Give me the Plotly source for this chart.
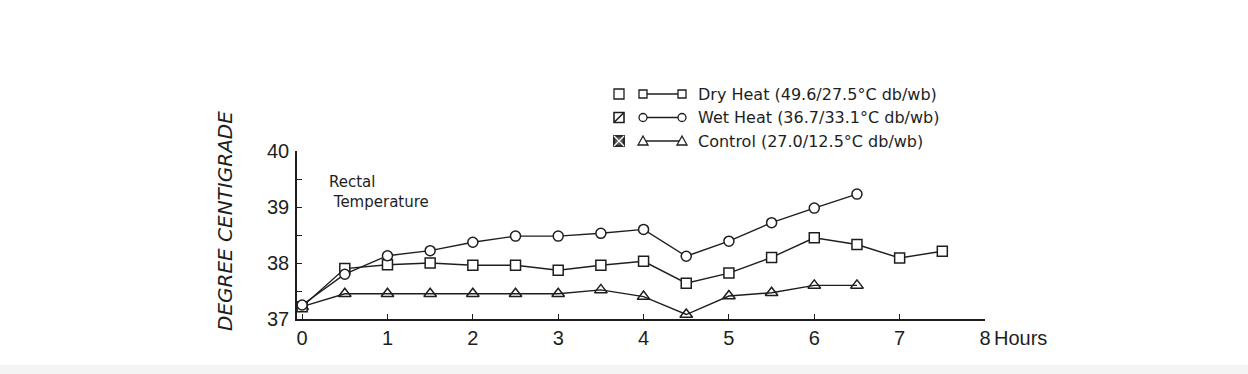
import plotly.graph_objects as go

# ---- data ----
hours_dry = [0, 0.5, 1, 1.5, 2, 2.5, 3, 3.5, 4, 4.5, 5, 5.5, 6, 6.5, 7, 7.5]
dry_heat = [37.22, 37.9, 37.97, 38.0, 37.96, 37.96, 37.87, 37.96, 38.03, 37.64, 37.82, 38.1, 38.45, 38.33, 38.09, 38.21]
hours_wet = [0, 0.5, 1, 1.5, 2, 2.5, 3, 3.5, 4, 4.5, 5, 5.5, 6, 6.5]
wet_heat = [37.25, 37.8, 38.13, 38.22, 38.37, 38.48, 38.48, 38.53, 38.6, 38.12, 38.39, 38.72, 38.98, 39.23]
hours_ctrl = [0, 0.5, 1, 1.5, 2, 2.5, 3, 3.5, 4, 4.5, 5, 5.5, 6, 6.5]
control = [37.22, 37.45, 37.45, 37.45, 37.45, 37.45, 37.45, 37.52, 37.4, 37.08, 37.41, 37.47, 37.6, 37.6]

series_names = ["Dry Heat (49.6/27.5°C db/wb)",
                "Wet Heat (36.7/33.1°C db/wb)",
                "Control (27.0/12.5°C db/wb)"]
x_ticks = [0, 1, 2, 3, 4, 5, 6, 7, 8]
x_tick_labels = ["0", "1", "2", "3", "4", "5", "6", "7", "8"]
y_ticks = [37, 37.5, 38, 38.5, 39, 39.5, 40]
y_tick_labels = ["37", "", "38", "", "39", "", "40"]

INK = "#1e1e1e"
FONT = "Liberation Sans"
WIDE = "DejaVu Sans"

# plot-area geometry in pixels
W, H = 1248, 374
L, R, T, B = 297, 985, 151, 319


def px(xp):
    return (xp - L) / (R - L)


def py(yp):
    return (B - yp) / (B - T)


fig = go.Figure()

line_style = dict(color=INK, width=1.4)
fig.add_trace(go.Scatter(x=hours_ctrl, y=control, mode="lines+markers", line=line_style,
                         marker=dict(symbol="triangle-up-open", size=11, color=INK, line=dict(width=1.5)),
                         name=series_names[2], showlegend=False))
fig.add_trace(go.Scatter(x=hours_dry, y=dry_heat, mode="lines+markers", line=line_style,
                         marker=dict(symbol="square", size=10, color="white", line=dict(color=INK, width=1.5)),
                         name=series_names[0], showlegend=False))
fig.add_trace(go.Scatter(x=hours_wet, y=wet_heat, mode="lines+markers", line=line_style,
                         marker=dict(symbol="circle", size=10, color="white", line=dict(color=INK, width=1.5)),
                         name=series_names[1], showlegend=False))

shapes = []
annotations = []

# bottom light strip
shapes.append(dict(type="rect", xref="paper", yref="paper", x0=px(0), x1=px(W), y0=py(374), y1=py(365),
                   fillcolor="#f4f4f4", line=dict(width=0), layer="below"))

# ---- manual legend ----
row_y = [94, 117.5, 141]
box_x = 619
mk_left, mk_right = 643, 682
text_x = 696
for i, yy in enumerate(row_y):
    ya = py(yy)
    shapes.append(dict(type="rect", xref="paper", yref="paper", xsizemode="pixel", ysizemode="pixel",
                       xanchor=px(box_x), yanchor=ya, x0=-5, x1=5, y0=-5, y1=5,
                       line=dict(color=INK, width=1.6 if i else 1.3), fillcolor="white"))
    if i == 1:
        shapes.append(dict(type="line", xref="paper", yref="paper", xsizemode="pixel", ysizemode="pixel",
                           xanchor=px(box_x), yanchor=ya, x0=-5, x1=5, y0=-5, y1=5,
                           line=dict(color=INK, width=1.6)))
    if i == 2:
        shapes.append(dict(type="rect", xref="paper", yref="paper", xsizemode="pixel", ysizemode="pixel",
                           xanchor=px(box_x), yanchor=ya, x0=-5, x1=5, y0=-5, y1=5,
                           line=dict(color=INK, width=1.6), fillcolor="#555555"))
        shapes.append(dict(type="line", xref="paper", yref="paper", xsizemode="pixel", ysizemode="pixel",
                           xanchor=px(box_x), yanchor=ya, x0=-5, x1=5, y0=-5, y1=5,
                           line=dict(color="white", width=1.3)))
        shapes.append(dict(type="line", xref="paper", yref="paper", xsizemode="pixel", ysizemode="pixel",
                           xanchor=px(box_x), yanchor=ya, x0=-5, x1=5, y0=5, y1=-5,
                           line=dict(color="white", width=1.3)))
    shapes.append(dict(type="line", xref="paper", yref="paper", x0=px(mk_left), x1=px(mk_right),
                       y0=ya, y1=ya, line=dict(color=INK, width=1.3)))
    for mx in (mk_left, mk_right):
        if i == 0:
            shapes.append(dict(type="rect", xref="paper", yref="paper", xsizemode="pixel", ysizemode="pixel",
                               xanchor=px(mx), yanchor=ya, x0=-4, x1=4, y0=-4, y1=4,
                               line=dict(color=INK, width=1.3), fillcolor="white"))
        elif i == 1:
            shapes.append(dict(type="circle", xref="paper", yref="paper", xsizemode="pixel", ysizemode="pixel",
                               xanchor=px(mx), yanchor=ya, x0=-4, x1=4, y0=-4, y1=4,
                               line=dict(color=INK, width=1.3), fillcolor="white"))
        else:
            shapes.append(dict(type="path", xref="paper", yref="paper", xsizemode="pixel", ysizemode="pixel",
                               xanchor=px(mx), yanchor=ya, path="M -5 -4 L 5 -4 L 0 5 Z",
                               line=dict(color=INK, width=1.3), fillcolor="white"))
    annotations.append(dict(xref="paper", yref="paper", x=px(text_x), y=ya, xanchor="left", yanchor="middle",
                            text=series_names[i], showarrow=False,
                            font=dict(family=WIDE, size=16, color=INK)))

# "Rectal Temperature" label
annotations.append(dict(xref="paper", yref="paper", x=px(327), y=py(192), xanchor="left", yanchor="middle",
                        text="Rectal<br> Temperature", showarrow=False, align="left",
                        font=dict(family=WIDE, size=15, color=INK)))
# y axis title
annotations.append(dict(xref="paper", yref="paper", x=px(225), y=py(221), xanchor="center", yanchor="middle",
                        text="DEGREE CENTIGRADE", textangle=-90, showarrow=False,
                        font=dict(family=WIDE, size=20, color=INK, style="italic")))
# "Hours" beside last tick
annotations.append(dict(xref="paper", yref="paper", x=px(992), y=py(338), xanchor="left", yanchor="middle",
                        text="Hours", showarrow=False,
                        font=dict(family=FONT, size=20, color=INK)))

tick_font = dict(family=FONT, size=20, color=INK)
fig.update_layout(
    width=W, height=H,
    margin=dict(l=L, r=W - R, t=T, b=H - B, pad=0),
    plot_bgcolor="white", paper_bgcolor="white",
    shapes=shapes, annotations=annotations,
    showlegend=False,
    xaxis=dict(range=[-0.06, 8.0], tickvals=x_ticks, ticktext=x_tick_labels, ticks="inside", ticklen=5,
               tickcolor=INK, tickwidth=1.3, showline=True, linecolor=INK, linewidth=1.5,
               showgrid=False, zeroline=False, tickfont=tick_font),
    yaxis=dict(range=[37, 40], tickvals=y_ticks, ticktext=y_tick_labels, ticks="inside", ticklen=5,
               tickcolor=INK, tickwidth=1.3, showline=True, linecolor=INK, linewidth=1.5,
               showgrid=False, zeroline=False, tickfont=tick_font, ticklabelstandoff=2),
)

fig.write_html("out.html")
